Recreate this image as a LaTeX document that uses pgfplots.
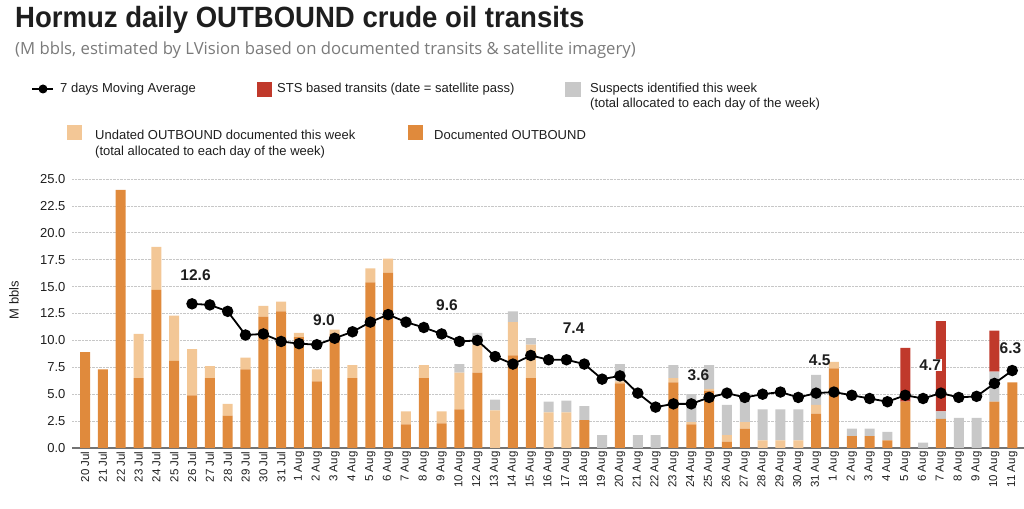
\documentclass[border=0pt]{standalone}
\usepackage{fontspec}
\setmainfont{Liberation Sans}
\newfontfamily\subfont{Open Sans}
\usepackage{pgfplots}
\pgfplotsset{compat=1.18}
\usepackage{pgfplotstable}

\definecolor{docc}{RGB}{224,138,60}
\definecolor{undc}{RGB}{243,199,150}
\definecolor{susc}{RGB}{200,200,200}
\definecolor{stsc}{RGB}{192,57,43}
\definecolor{txt}{RGB}{30,30,30}

\pgfplotstableread{
i doc und sus sts
0 8.9 0 0 0
1 7.3 0 0 0
2 24.0 0 0 0
3 6.5 4.1 0 0
4 14.7 4.0 0 0
5 8.1 4.2 0 0
6 4.9 4.3 0 0
7 6.5 1.1 0 0
8 3.0 1.1 0 0
9 7.3 1.1 0 0
10 12.2 1.0 0 0
11 12.7 0.9 0 0
12 10.3 0.4 0 0
13 6.2 1.1 0 0
14 10.6 0.4 0 0
15 6.5 1.2 0 0
16 15.4 1.3 0 0
17 16.3 1.3 0 0
18 2.2 1.2 0 0
19 6.5 1.2 0 0
20 2.3 1.1 0 0
21 3.6 3.4 0.8 0
22 7.0 2.6 1.1 0
23 0 3.5 1.0 0
24 8.6 3.1 1.0 0
25 6.5 3.1 0.6 0
26 0 3.3 1.0 0
27 0 3.3 1.1 0
28 2.6 0 1.3 0
29 0 0 1.2 0
30 6.0 0.2 1.6 0
31 0 0 1.2 0
32 0 0 1.2 0
33 6.1 0.4 1.2 0
34 2.2 0.2 2.6 0
35 5.3 0.2 2.2 0
36 0.6 0.6 2.8 0
37 1.8 0.6 2.7 0
38 0 0.7 2.9 0
39 0 0.7 2.9 0
40 0 0.7 2.9 0
41 3.2 0.8 2.8 0
42 7.4 0.6 0 0
43 1.1 0 0.7 0
44 1.1 0 0.7 0
45 0.7 0 0.8 0
46 4.3 0 0 5.0
47 0 0 0.5 0
48 2.7 0 0.7 8.4
49 0 0 2.8 0
50 0 0 2.8 0
51 4.3 0 2.8 3.8
52 6.1 0 0 0
}\bars

\pgfplotstableread{
i ma
6 13.4
7 13.3
8 12.7
9 10.5
10 10.6
11 9.9
12 9.7
13 9.6
14 10.2
15 10.8
16 11.7
17 12.4
18 11.7
19 11.2
20 10.6
21 9.9
22 10.0
23 8.5
24 7.8
25 8.6
26 8.2
27 8.2
28 7.8
29 6.4
30 6.7
31 5.1
32 3.8
33 4.1
34 4.1
35 4.7
36 5.1
37 4.7
38 5.0
39 5.2
40 4.7
41 5.1
42 5.2
43 4.9
44 4.6
45 4.3
46 4.9
47 4.6
48 5.1
49 4.7
50 4.8
51 6.0
52 7.2
}\mavg

\pgfplotsset{
  mygeom/.style={at={(72pt,60pt)}, anchor=south west, scale only axis,
    width=952pt, height=269pt, xmin=-0.73, xmax=52.66, ymin=0, ymax=25},
}

\begin{document}
\begin{tikzpicture}
\useasboundingbox (0pt,0pt) rectangle (1024pt,508pt);
\begin{axis}[mygeom,
  ybar stacked, bar width=10pt,
  axis x line*=bottom, axis y line*=left,
  x axis line style={-, draw=black!55, line width=1.2pt},
  y axis line style={draw=none},
  ymajorgrids, grid style={densely dotted, black!22, line width=0.7pt},
  ytick={0,2.5,...,25},
  xtick={0,...,52},
  xticklabels={20 Jul,21 Jul,22 Jul,23 Jul,24 Jul,25 Jul,26 Jul,27 Jul,28 Jul,29 Jul,30 Jul,31 Jul,1 Aug,2 Aug,3 Aug,4 Aug,5 Aug,6 Aug,7 Aug,8 Aug,9 Aug,10 Aug,12 Aug,13 Aug,14 Aug,15 Aug,16 Aug,17 Aug,18 Aug,19 Aug,20 Aug,21 Aug,22 Aug,23 Aug,24 Aug,25 Aug,26 Aug,27 Aug,28 Aug,29 Aug,30 Aug,31 Aug,1 Aug,2 Aug,3 Aug,4 Aug,5 Aug,6 Aug,7 Aug,8 Aug,9 Aug,10 Aug,11 Aug},
  major tick length=0pt,
  xticklabel style={rotate=90, anchor=east, font=\fontsize{11.5}{11.5}\selectfont, text=txt},
  yticklabel style={font=\fontsize{13}{13}\selectfont, text=txt, xshift=-3pt},
  yticklabel={\pgfmathprintnumber[fixed, fixed zerofill, precision=1, assume math mode=true]{\tick}},
  clip=false,
]
\addplot[fill=docc, draw=none] table[x=i,y=doc]{\bars};
\addplot[fill=undc, draw=none] table[x=i,y=und]{\bars};
\addplot[fill=susc, draw=none] table[x=i,y=sus]{\bars};
\addplot[fill=stsc, draw=none] table[x=i,y=sts]{\bars};
\end{axis}
\begin{axis}[mygeom, hide axis, clip=false]
\addplot[black, line width=1.8pt, mark=*, mark size=4.8pt, mark options={solid, fill=black}] table[x=i,y=ma]{\mavg};
\tikzset{lab/.style={font=\bfseries\fontsize{15.5}{15.5}\selectfont, text=txt, inner sep=1pt}}
\node[lab] at (axis cs:6.2,16.1) {12.6};
\node[lab] at (axis cs:13.4,11.9) {9.0};
\node[lab] at (axis cs:20.3,13.3) {9.6};
\node[lab] at (axis cs:27.4,11.15) {7.4};
\node[lab] at (axis cs:34.4,6.8) {3.6};
\node[lab] at (axis cs:41.2,8.2) {4.5};
\node[lab, fill=white] at (axis cs:47.4,7.7) {4.7};
\node[lab] at (axis cs:51.9,9.3) {6.3};
\end{axis}
% y label
\node[rotate=90, font=\fontsize{13}{13}\selectfont, text=txt] at (14pt,208pt) {M bbls};
% title
\node[anchor=base west, inner sep=0pt, text=txt] at (15pt,480pt)
  {\scalebox{0.94}[1]{\bfseries\fontsize{29.3}{30}\selectfont Hormuz daily OUTBOUND crude oil transits}};
\node[anchor=base west, inner sep=0pt, text=black!52] at (15pt,453pt)
  {\subfont\fontsize{16.7}{17}\selectfont (M bbls, estimated by LVision based on documented transits \& satellite imagery)};
% legend
\begin{scope}[font=\fontsize{13}{13}\selectfont]
\draw[black, line width=1.8pt] (32pt,419pt) -- (53pt,419pt);
\fill[black] (43pt,419pt) circle (4.5pt);
\node[anchor=base west, inner sep=0pt, text=txt] at (60pt,415pt) {7 days Moving Average};
\fill[stsc] (257pt,411pt) rectangle (272pt,426pt);
\node[anchor=base west, inner sep=0pt, text=txt] at (277pt,415pt) {STS based transits (date = satellite pass)};
\fill[susc] (565pt,411pt) rectangle (581pt,426pt);
\node[anchor=base west, inner sep=0pt, text=txt] at (590pt,415pt) {Suspects identified this week};
\node[anchor=base west, inner sep=0pt, text=txt] at (590pt,400pt) {(total allocated to each day of the week)};
\fill[undc] (67pt,368pt) rectangle (82pt,383pt);
\node[anchor=base west, inner sep=0pt, text=txt] at (95pt,368pt) {Undated OUTBOUND documented this week};
\node[anchor=base west, inner sep=0pt, text=txt] at (95pt,352pt) {(total allocated to each day of the week)};
\fill[docc] (408pt,368pt) rectangle (423pt,383pt);
\node[anchor=base west, inner sep=0pt, text=txt] at (434pt,368pt) {Documented OUTBOUND};
\end{scope}
\end{tikzpicture}
\end{document}
